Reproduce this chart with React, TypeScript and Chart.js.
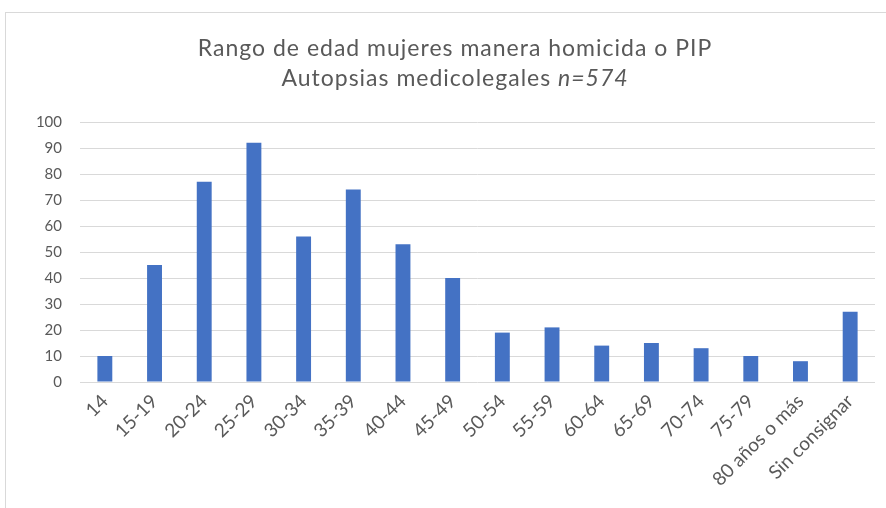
import React, { useEffect, useRef } from "react";
import { Chart, registerables } from "chart.js";

Chart.register(...registerables);

const categories = [
  "14", "15-19", "20-24", "25-29", "30-34", "35-39", "40-44", "45-49",
  "50-54", "55-59", "60-64", "65-69", "70-74", "75-79", "80 años o más", "Sin consignar",
];
const values = [10, 45, 77, 92, 56, 74, 53, 40, 19, 21, 14, 15, 13, 10, 8, 27];
const titleLine1 = "Rango de edad mujeres manera homicida o PIP";
const titleLine2Plain = "Autopsias medicolegales ";
const titleLine2Italic = "n=574";
const yTicks = [0, 10, 20, 30, 40, 50, 60, 70, 80, 90, 100];

const FONT = "Lato, 'Open Sans', sans-serif";
const GRAY = "#595959";

const framePlugin = {
  id: "framePlugin",
  beforeDraw(chart: any) {
    const ctx = chart.ctx;
    ctx.save();
    ctx.fillStyle = "#ffffff";
    ctx.fillRect(0, 0, chart.width, chart.height);
    ctx.strokeStyle = "#d9d9d9";
    ctx.lineWidth = 1;
    ctx.strokeRect(5.5, 12.5, chart.width + 20, chart.height + 20);
    ctx.restore();
  },
  afterDraw(chart: any) {
    const ctx = chart.ctx;
    const cx = 455;
    ctx.save();
    ctx.fillStyle = GRAY;
    ctx.textBaseline = "alphabetic";
    (ctx as any).letterSpacing = "1px";
    const plainFont = `23px ${FONT}`;
    const italicFont = `italic 23px ${FONT}`;
    ctx.font = plainFont;
    ctx.textAlign = "center";
    ctx.fillText(titleLine1, cx, 56);
    ctx.font = plainFont;
    const w1 = ctx.measureText(titleLine2Plain).width;
    ctx.font = italicFont;
    const w2 = ctx.measureText(titleLine2Italic).width;
    const start = cx - (w1 + w2) / 2;
    ctx.textAlign = "left";
    ctx.font = plainFont;
    ctx.fillText(titleLine2Plain, start, 86);
    ctx.font = italicFont;
    ctx.fillText(titleLine2Italic, start + w1, 86);
    ctx.restore();
  },
};

export default function App() {
  const ref = useRef<HTMLCanvasElement>(null);
  useEffect(() => {
    const chart = new Chart(ref.current!, {
      type: "bar",
      data: {
        labels: categories,
        datasets: [
          {
            data: values,
            backgroundColor: "#4472C4",
            barPercentage: 0.3,
            categoryPercentage: 1,
          },
        ],
      },
      options: {
        animation: false,
        responsive: false,
        maintainAspectRatio: false,
        layout: { padding: { top: 122, right: 11, left: 0, bottom: 0 } },
        plugins: {
          legend: { display: false },
          title: { display: false },
          tooltip: { enabled: false },
        },
        scales: {
          x: {
            grid: { display: false, drawTicks: false },
            border: { display: false },
            afterFit: (s: any) => { s.height = 126; },
            ticks: {
              color: GRAY,
              font: { family: FONT, size: 19 },
              minRotation: 45,
              maxRotation: 45,
              autoSkip: false,
              padding: 8,
            },
          },
          y: {
            min: 0,
            max: 100,
            afterFit: (s: any) => { s.width = 80; },
            afterBuildTicks: (s: any) => { s.ticks = yTicks.map((v) => ({ value: v })); },
            grid: { color: "#d9d9d9", lineWidth: 1, drawTicks: false },
            border: { display: false },
            ticks: {
              color: GRAY,
              font: { family: FONT, size: 15 },
              padding: 18,
            },
          },
        },
      },
      plugins: [framePlugin],
    });
    return () => chart.destroy();
  }, []);
  return (
    <div style={{ position: "fixed", left: 0, top: 0, width: 886, height: 508, background: "#fff" }}>
      <canvas ref={ref} width={886} height={508} style={{ display: "block", width: 886, height: 508 }} />
    </div>
  );
}
